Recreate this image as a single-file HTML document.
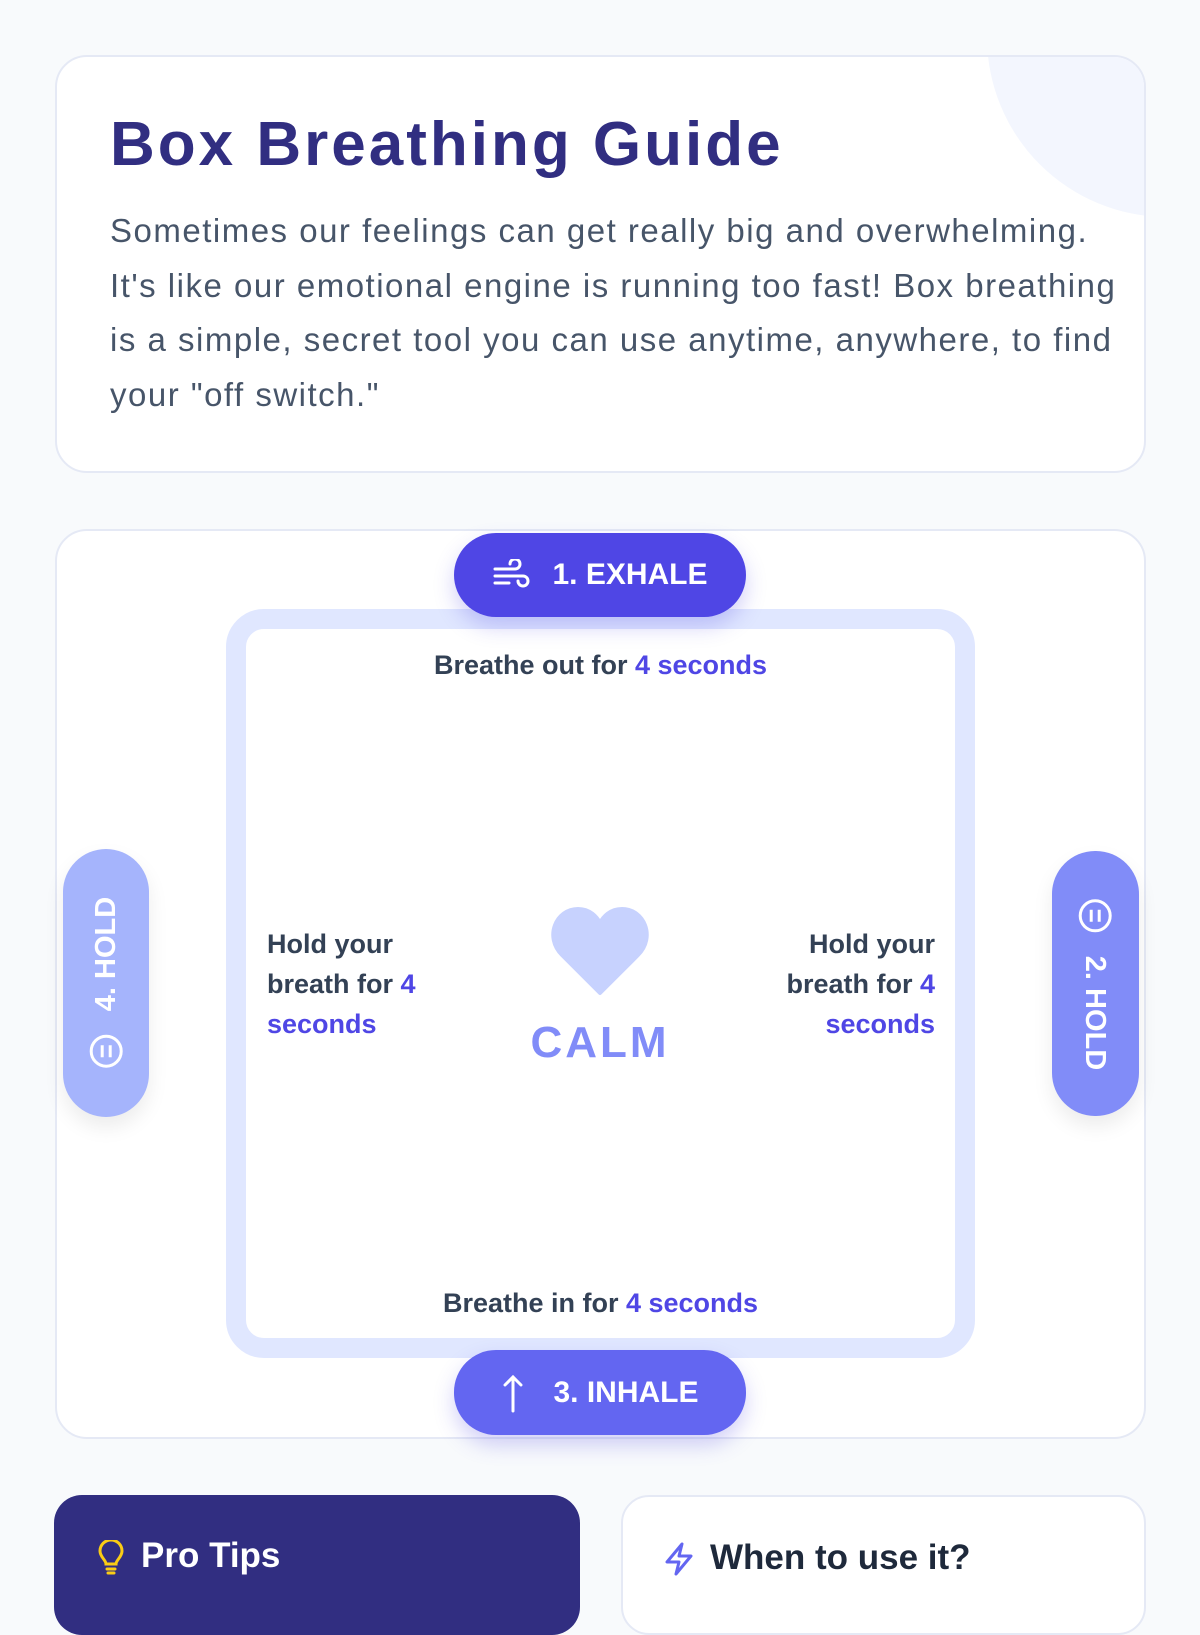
<!DOCTYPE html>
<html><head><meta charset="utf-8"><style>
*{margin:0;padding:0;box-sizing:border-box}
body{width:1200px;height:1600px;background:#f8fafc;font-family:"Liberation Sans",sans-serif;position:relative;overflow:hidden}
.card{position:absolute;background:#fff;border:2px solid #e5e9f5;border-radius:32px;overflow:hidden}
.abs{position:absolute}
.pill{position:absolute;color:#fff;font-weight:bold;display:flex;align-items:center;justify-content:center;box-shadow:0 10px 20px rgba(79,70,229,.25)}
.acc{color:#4f46e5}
.t{position:absolute;font-size:27px;font-weight:bold;color:#334155;line-height:40px}
</style></head><body>
<div class="card" style="left:55px;top:55px;width:1091px;height:418px">
  <div class="abs" style="left:930px;top:-200px;width:360px;height:360px;border-radius:50%;background:#f3f6fe"></div>
  <div class="abs" style="left:53px;top:52px;font-size:62px;font-weight:bold;color:#312e81;letter-spacing:3px">Box Breathing Guide</div>
  <div class="abs" style="left:53px;top:147px;width:1010px;font-size:33px;letter-spacing:1.5px;line-height:54.5px;color:#475569">Sometimes our feelings can get really big and overwhelming. It's like our emotional engine is running too fast! Box breathing is a simple, secret tool you can use anytime, anywhere, to find your "off switch."</div>
</div>
<div class="card" style="left:55px;top:529px;width:1091px;height:910px;overflow:visible"></div>
<div class="abs" style="left:226px;top:609px;width:749px;height:749px;border:20px solid #e0e7ff;border-radius:38px;background:#fff"></div>
<div class="t" style="left:226px;width:749px;top:645px;text-align:center">Breathe out for <span class="acc">4 seconds</span></div>
<div class="t" style="left:226px;width:749px;top:1283px;text-align:center">Breathe in for <span class="acc">4 seconds</span></div>
<div class="t" style="left:267px;top:924px;width:175px">Hold your breath for <span class="acc">4 seconds</span></div>
<div class="t" style="left:760px;top:924px;width:175px;text-align:right">Hold your breath for <span class="acc">4 seconds</span></div>
<svg class="abs" style="left:550px;top:905px" width="100" height="92" viewBox="0 0 100 92"><path d="M50 88 L12 50 C-6 32 6 4 28 4 C40 4 47 12 50 18 C53 12 60 4 72 4 C94 4 106 32 88 50 Z" fill="#c7d2fe" stroke="#c7d2fe" stroke-width="4" stroke-linejoin="round"/></svg>
<div class="abs" style="left:450px;width:300px;top:1018px;text-align:center;font-size:44px;font-weight:bold;color:#818cf8;letter-spacing:3px">CALM</div>
<div class="pill" style="left:454px;top:533px;width:292px;height:84px;border-radius:42px;background:#4f46e5;font-size:30px">
<svg width="40" height="32" viewBox="0 0 40 32" style="margin-right:20px" fill="none" stroke="#fff" stroke-width="3" stroke-linecap="round"><path d="M3 10h20a5 5 0 1 0-5-5"/><path d="M3 17h28a5 5 0 1 1-5 5"/><path d="M3 24h14"/></svg>1. EXHALE</div>
<div class="pill" style="left:454px;top:1350px;width:292px;height:85px;border-radius:42px;background:#6366f1;font-size:30px">
<svg width="24" height="40" viewBox="0 0 24 40" style="margin-right:28px" fill="none" stroke="#fff" stroke-width="3" stroke-linecap="round"><path d="M12 38V4M4 12l8-8 8 8"/></svg>3. INHALE</div>
<div class="pill" style="left:63px;top:849px;width:86px;height:268px;border-radius:43px;background:#a5b4fc;box-shadow:0 10px 20px rgba(0,0,0,.08)">
 <div style="transform:rotate(-90deg);display:flex;align-items:center;white-space:nowrap;font-size:29px"><svg width="36" height="36" viewBox="0 0 36 36" style="margin-right:22px;transform:rotate(90deg)" fill="none" stroke="#fff" stroke-width="3"><circle cx="18" cy="18" r="15"/><path d="M14 12v12M22 12v12"/></svg>4. HOLD</div></div>
<div class="pill" style="left:1052px;top:851px;width:87px;height:265px;border-radius:43px;background:#818cf8;box-shadow:0 10px 20px rgba(0,0,0,.08)">
 <div style="transform:rotate(90deg);display:flex;align-items:center;white-space:nowrap;font-size:29px"><svg width="36" height="36" viewBox="0 0 36 36" style="margin-right:22px;transform:rotate(-90deg)" fill="none" stroke="#fff" stroke-width="3"><circle cx="18" cy="18" r="15"/><path d="M14 12v12M22 12v12"/></svg>2. HOLD</div></div>
<div class="abs" style="left:54px;top:1495px;width:526px;height:140px;border-radius:28px;background:#312e81"></div>
<svg class="abs" style="left:97px;top:1540px" width="28" height="36" viewBox="0 0 28 36" fill="none" stroke="#facc15" stroke-width="3" stroke-linecap="round"><path d="M9 24c0-4-6-7-6-13a11 11 0 0 1 22 0c0 6-6 9-6 13z"/><path d="M10 29h8M11 33h6"/></svg>
<div class="abs" style="left:141px;top:1536px;font-size:35px;font-weight:bold;color:#fff">Pro Tips</div>
<div class="card" style="left:621px;top:1495px;width:525px;height:140px;border-radius:28px"></div>
<svg class="abs" style="left:663px;top:1541px" width="32" height="36" viewBox="0 0 32 36" fill="none" stroke="#6366f1" stroke-width="3" stroke-linejoin="round"><path d="M19 3L4 21h12l-3 12 15-18H16z"/></svg>
<div class="abs" style="left:710px;top:1538px;font-size:35px;font-weight:bold;color:#1e293b">When to use it?</div>
</body></html>
